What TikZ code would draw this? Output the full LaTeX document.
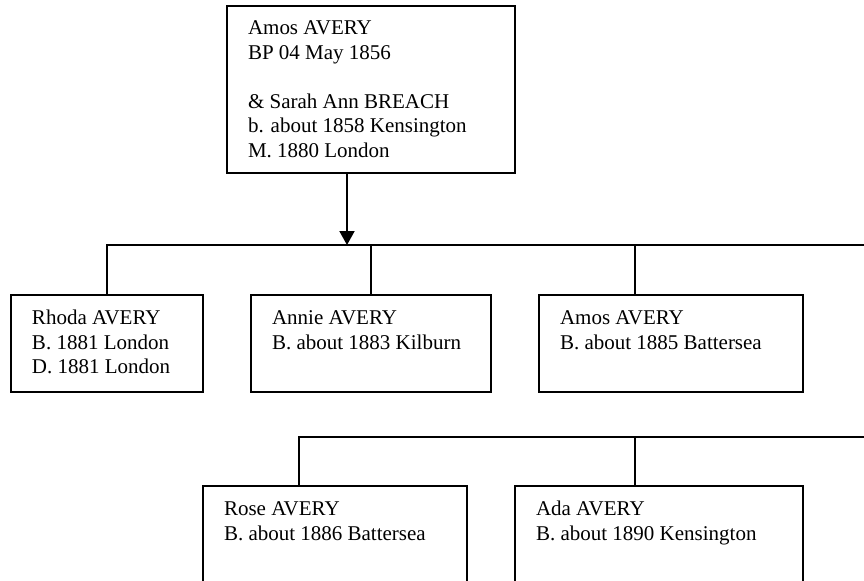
\documentclass[tikz,border=0pt]{standalone}
\usepackage{fontspec}
\setmainfont{Liberation Serif}
\usetikzlibrary{arrows.meta}
\begin{document}
\begin{tikzpicture}[x=0.5pt,y=-0.5pt,
  person/.style={draw, line width=1pt, anchor=north west, outer sep=0pt, inner sep=0pt},
  lbl/.style={anchor=north west, inner sep=0pt, outer sep=0pt, align=left,
    xshift=10.5pt, yshift=-6.2pt, font=\fontsize{10.5}{12.25}\selectfont},
  link/.style={line width=1pt},
  tip/.style={-{Triangle[width=7.5pt,length=7pt]}}]
\useasboundingbox (0,0) rectangle (864,580);

\node[person, minimum width=144pt, minimum height=83.5pt,
  label={[lbl, yshift=0.3pt]north west:{\strut Amos AVERY\\BP 04 May 1856\\[12.25pt]\& Sarah Ann BREACH\\b. about 1858 Kensington\\M. 1880 London}}]
  (parents) at (227,6) {};

\node[person, minimum width=96pt, minimum height=48.5pt,
  label={[lbl]north west:{\strut Rhoda AVERY\\B. 1881 London\\D. 1881 London}}]
  (rhoda) at (11,295) {};
\node[person, minimum width=120pt, minimum height=48.5pt,
  label={[lbl]north west:{\strut Annie AVERY\\B. about 1883 Kilburn}}]
  (annie) at (251,295) {};
\node[person, minimum width=132pt, minimum height=48.5pt,
  label={[lbl]north west:{\strut Amos AVERY\\B. about 1885 Battersea}}]
  (amosjr) at (539,295) {};

\node[person, minimum width=132pt, minimum height=60pt,
  label={[lbl]north west:{\strut Rose AVERY\\B. about 1886 Battersea}}]
  (rose) at (203,486) {};
\node[person, minimum width=144pt, minimum height=60pt,
  label={[lbl]north west:{\strut Ada AVERY\\B. about 1890 Kensington}}]
  (ada) at (515,486) {};

\coordinate (bus1) at (864,245);
\coordinate (bus2) at (864,437);

\draw[link, tip] ([xshift=-12pt]parents.south) -- ([xshift=-12pt]parents.south |- bus1);
\draw[link] (rhoda.north) |- (bus1);
\draw[link] (annie.north) -- (annie.north |- bus1);
\draw[link] ([xshift=-18pt]amosjr.north) -- ([xshift=-18pt]amosjr.north |- bus1);
\draw[link] ([xshift=-18pt]rose.north) |- (bus2);
\draw[link] ([xshift=-12pt]ada.north) -- ([xshift=-12pt]ada.north |- bus2);
\end{tikzpicture}
\end{document}
